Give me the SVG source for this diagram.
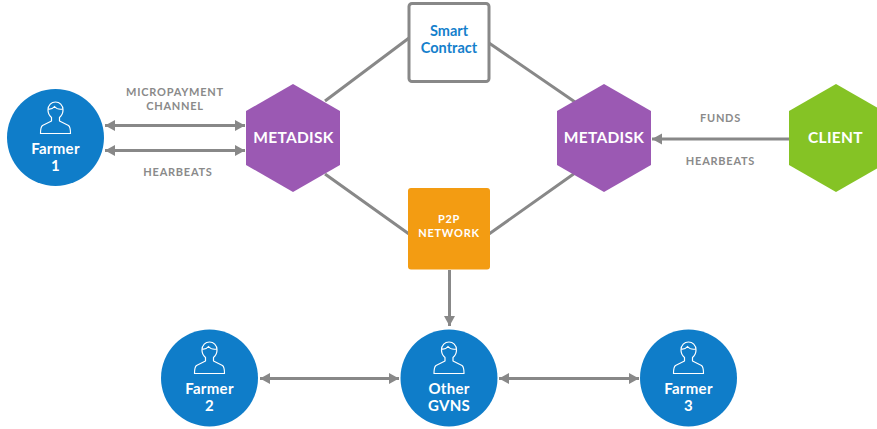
<svg xmlns="http://www.w3.org/2000/svg" width="877" height="429" viewBox="0 0 877 429">
<style>
text{font-family:Lato,"Open Sans",sans-serif;text-anchor:middle}
.f{font-size:15px;font-weight:700;fill:#fff;letter-spacing:.3px}
.l{font-size:11px;font-weight:700;fill:#8a8a8a;letter-spacing:.75px}
.w{fill:#fff}
.h{font-size:15.500px;font-weight:700;fill:#fff;letter-spacing:.3px}
.s{font-size:14.500px;font-weight:700;fill:#1480cc}
.c{fill:none;stroke:#888;stroke-width:3}
.i{fill:none;stroke:#fff;stroke-width:1.200;stroke-linejoin:round}
.t{fill:#0f7dc9}
.p{fill:#9b59b3}
</style>
<defs>
<marker id="a" markerUnits="userSpaceOnUse" markerWidth="12" markerHeight="12" refX="10" refY="6" orient="auto-start-reverse"><path d="M0 .5L10 6L0 11.500Z" fill="#888"/></marker>
<g id="u"><path class="i" d="M-4 3.500V7L-13 11.500C-14.500 12.500-15 14-15 19.500H15C15 14 14.500 12.500 13 11.500L4 7V3.500C6.500 1.500 7.500-1.500 7.500-4C7.500-9 4-12 0-12C-4-12-7.500-9-7.500-4C-7.500-1.500-6.500 1.500-4 3.500Z"/><path class="i" d="M-7.500-5C-5-4.500-2.500-5.500-1-7.500C1-5 5-4.500 7.500-5"/></g>
</defs>
<g id="connectors">
<path class="c" d="M325 101L409 38M489 43L575 102M325 174L409 234M489 234L575 173"/>
<path class="c" d="M105 125.500H245" marker-start="url(#a)" marker-end="url(#a)"/>
<path class="c" d="M105 150.500H245" marker-start="url(#a)" marker-end="url(#a)"/>
<path class="c" d="M789 139H652" marker-end="url(#a)"/>
<path class="c" d="M449.500 270V326" marker-end="url(#a)"/>
<path class="c" d="M260 378.500H399" marker-start="url(#a)" marker-end="url(#a)"/>
<path class="c" d="M499 378.500H639" marker-start="url(#a)" marker-end="url(#a)"/>
</g>
<g id="label-micropayment"><text class="l" x="175" y="96">MICROPAYMENT</text><text class="l" x="175" y="109.500">CHANNEL</text></g>
<g id="label-hearbeats-left"><text class="l" x="178" y="175.500">HEARBEATS</text></g>
<g id="label-funds"><text class="l" x="720.500" y="122">FUNDS</text></g>
<g id="label-hearbeats-right"><text class="l" x="720.500" y="165">HEARBEATS</text></g>
<g id="farmer1"><circle class="t" cx="55.500" cy="137.500" r="48.500"/><use href="#u" x="55.500" y="114"/><text class="f" x="55.500" y="153.500">Farmer</text><text class="f" x="55.500" y="171">1</text></g>
<g id="metadisk-left"><path class="p" d="M293 84L340 111V165L293 192L246 165V111Z"/><text class="h" x="293.500" y="143">METADISK</text></g>
<g id="smart-contract"><rect x="409" y="3.500" width="80" height="78" rx="3" fill="#fff" stroke="#888" stroke-width="3"/><text class="s" x="449" y="36">Smart</text><text class="s" x="449" y="52.500">Contract</text></g>
<g id="p2p-network"><rect x="408" y="188" width="82" height="81.500" rx="3" fill="#f39c12"/><text class="l w" x="449" y="223" style="fill:#fff">P2P</text><text class="l w" x="449" y="236.500" style="fill:#fff">NETWORK</text></g>
<g id="metadisk-right"><path class="p" d="M604 84L651 111V165L604 192L557 165V111Z"/><text class="h" x="604" y="143">METADISK</text></g>
<g id="client"><path fill="#85c325" d="M836 84L883 111V165L836 192L789 165V111Z"/><text class="h" x="835.500" y="143">CLIENT</text></g>
<g id="farmer2"><circle class="t" cx="209.500" cy="378" r="48.500"/><use href="#u" x="209.500" y="354"/><text class="f" x="209.500" y="393.500">Farmer</text><text class="f" x="209.500" y="411">2</text></g>
<g id="other-gvns"><circle class="t" cx="449" cy="378" r="48.500"/><use href="#u" x="449" y="354"/><text class="f" x="449" y="393.500">Other</text><text class="f" x="449" y="411">GVNS</text></g>
<g id="farmer3"><circle class="t" cx="688.500" cy="378" r="48.500"/><use href="#u" x="688.500" y="354"/><text class="f" x="688.500" y="393.500">Farmer</text><text class="f" x="688.500" y="411">3</text></g>
</svg>
